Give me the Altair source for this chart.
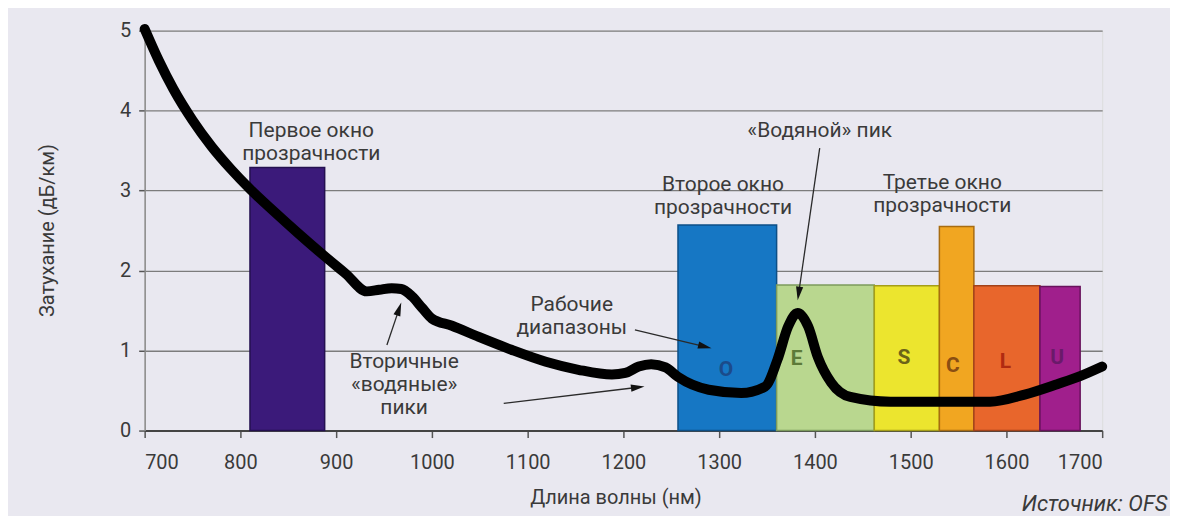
import math
import altair as alt
import pandas as pd

FONT = "Roboto, Liberation Sans, sans-serif"
TXT = "#3a3a3a"

# Attenuation curve (wavelength nm, dB/km)
wl = [700, 715, 730, 750, 770, 790, 810, 835, 860, 885, 910, 932, 945, 958, 968,
      979, 990, 1000, 1021, 1049, 1083, 1119, 1153, 1188, 1202, 1216, 1229, 1244,
      1257, 1289, 1323, 1348, 1361, 1372, 1382, 1393, 1403, 1417, 1437, 1479, 1549,
      1583, 1619, 1653, 1677, 1700]
att = [5.02, 4.62, 4.27, 3.88, 3.55, 3.27, 3.02, 2.74, 2.47, 2.21, 1.96, 1.74, 1.76,
       1.78, 1.77, 1.68, 1.53, 1.40, 1.31, 1.17, 1.01, 0.86, 0.76, 0.70, 0.72, 0.80,
       0.83, 0.79, 0.67, 0.51, 0.47, 0.55, 0.89, 1.30, 1.47, 1.30, 0.92, 0.60, 0.42,
       0.36, 0.36, 0.36, 0.45, 0.58, 0.68, 0.80]

# Transparency windows / bands
band_names = ["first", "O", "E", "S", "C", "L", "U"]
band_start = [810, 1257, 1360, 1462, 1530, 1566, 1635]
band_end = [888, 1360, 1462, 1530, 1566, 1635, 1677]
band_top = [3.29, 2.57, 1.82, 1.81, 2.55, 1.81, 1.80]
band_fill = ["#3b1a7a", "#1677c4", "#b9d78f", "#ece52e", "#f1a621", "#e8662c", "#a01f8c"]
band_edge = ["#241050", "#0d4f86", "#7c9a5c", "#a59e18", "#a86c10", "#a2421a", "#68125c"]

# Band letters
letters = ["O", "E", "S", "C", "L", "U"]
letter_x = [1307, 1381, 1493, 1544, 1599, 1653]
letter_y = [0.76, 0.89, 0.91, 0.81, 0.86, 0.91]
letter_color = ["#1b4b8a", "#5d7a38", "#6b6318", "#8a4e12", "#b02a10", "#6a1a6a"]

# Annotation texts (first-line center positions in data units)
note_text = ["Первое окно\nпрозрачности", "Второе окно\nпрозрачности",
             "Третье окно\nпрозрачности", "«Водяной» пик",
             "Рабочие\nдиапазоны", "Вторичные\n«водяные»\nпики"]
note_x = [874, 1304, 1533, 1405, 1146, 971]
note_y = [3.75, 3.07, 3.09, 3.74, 1.57, 0.86]

# Arrows (start -> tip)
arr_x1 = [953, 1075, 1212, 1405]
arr_y1 = [1.07, 0.34, 1.26, 3.53]
arr_x2 = [968, 1222, 1292, 1382]
arr_y2 = [1.60, 0.55, 1.03, 1.63]

PX_X = 0.96   # px per nm
PX_Y = 80.2   # px per dB/km

curve = pd.DataFrame({"wl": wl, "att": att})
bands = pd.DataFrame({"name": band_names, "x1": band_start, "x2": band_end,
                      "y1": [0.0] * len(band_names), "y2": band_top})
lett = pd.DataFrame({"t": letters, "x": letter_x, "y": letter_y, "c": letter_color})
notes = pd.DataFrame({"t": note_text, "x": note_x, "y": note_y})

heads = []
for x1, y1, x2, y2 in zip(arr_x1, arr_y1, arr_x2, arr_y2):
    dx = (x2 - x1) * PX_X
    dy = -(y2 - y1) * PX_Y
    L = math.hypot(dx, dy)
    ux, uy = dx / L, dy / L
    ang = math.degrees(math.atan2(dx, -dy)) % 360
    heads.append({"x": x2 - 8 * ux / PX_X, "y": y2 + 8 * uy / PX_Y, "a": ang})
heads = pd.DataFrame(heads)
lines = pd.DataFrame({"x1": arr_x1, "y1": arr_y1,
                      "x2": list(heads["x"]), "y2": list(heads["y"])})

xs = alt.Scale(domain=[700, 1700], nice=False, zero=False)
ys = alt.Scale(domain=[0, 5], nice=False, zero=True)

x_axis = alt.Axis(values=list(range(700, 1701, 100)), format="d", title="Длина волны (нм)",
                  grid=False, tickSize=7, tickColor="#555", tickWidth=1.5, labelPadding=15,
                  labelFontSize=20, labelColor=TXT, labelFont=FONT,
                  domainColor="#444", domainWidth=2, titleFont=FONT, titleFontSize=20,
                  titleFontWeight="normal", titleColor=TXT, titleX=472, titleY=67,
                  titleBaseline="middle")
y_axis = alt.Axis(values=[0, 1, 2, 3, 4, 5], title="Затухание (дБ/км)", grid=True,
                  gridColor="#7c7c7c", gridWidth=1.3, tickSize=6, tickColor="#555",
                  tickWidth=1.5, labelPadding=8, labelFontSize=20, labelColor=TXT,
                  labelFont=FONT, domainColor="#888", domainWidth=1.5, titleFont=FONT,
                  titleFontSize=20, titleFontWeight="normal", titleColor=TXT,
                  titleX=-97, titleY=200, titleBaseline="middle", titleAlign="center")


def X(f):
    return alt.X(f, scale=xs, axis=x_axis)


def Y(f):
    return alt.Y(f, scale=ys, axis=y_axis)


bars = alt.Chart(bands).mark_rect(strokeWidth=1.5).encode(
    x=X("x1:Q"), x2="x2:Q", y=Y("y1:Q"), y2="y2:Q",
    fill=alt.Fill("name:N", scale=alt.Scale(domain=band_names, range=band_fill), legend=None),
    stroke=alt.Stroke("name:N", scale=alt.Scale(domain=band_names, range=band_edge), legend=None),
)

letter_layer = alt.Chart(lett).mark_text(font=FONT, fontSize=21, fontWeight="bold",
                                         baseline="middle", align="center").encode(
    x=X("x:Q"), y=Y("y:Q"), text="t:N",
    color=alt.Color("c:N", scale=None),
)

line = alt.Chart(curve).mark_line(color="#000", strokeWidth=10, strokeCap="round",
                                  strokeJoin="round", interpolate="monotone",
                                  clip=False).encode(
    x=X("wl:Q"), y=Y("att:Q"),
)

arrow_lines = alt.Chart(lines).mark_rule(color="#2a2a2a", strokeWidth=1.3).encode(
    x=X("x1:Q"), y=Y("y1:Q"), x2="x2:Q", y2="y2:Q",
)
arrow_heads = alt.Chart(heads).mark_point(
    shape="M0,-1L0.45,0.7L-0.45,0.7Z", filled=True, color="#111", size=256, opacity=1
).encode(
    x=X("x:Q"), y=Y("y:Q"), angle=alt.Angle("a:Q", scale=None),
)

note_layer = alt.Chart(notes).mark_text(font=FONT, fontSize=21, color=TXT, lineHeight=23,
                                        lineBreak="\n", align="center",
                                        baseline="middle").encode(
    x=X("x:Q"), y=Y("y:Q"), text="t:N",
)

source = alt.Chart(pd.DataFrame({"t": ["Источник: OFS"], "x": [1768], "y": [-0.92]})).mark_text(
    font=FONT, fontSize=22, fontStyle="italic", color=TXT, align="right", baseline="middle"
).encode(
    x=X("x:Q"), y=Y("y:Q"), text="t:N",
)

chart = alt.layer(bars, letter_layer, line, arrow_lines, arrow_heads, note_layer, source).properties(
    width=960, height=401,
    autosize=alt.AutoSizeParams(type="none"),
    padding={"left": 137, "top": 22, "right": 68, "bottom": 85},
    background="#e9e8f0",
).configure_view(stroke=None).configure(font=FONT)

chart.save("out.html", embed_options={"renderer": "svg", "actions": False})
